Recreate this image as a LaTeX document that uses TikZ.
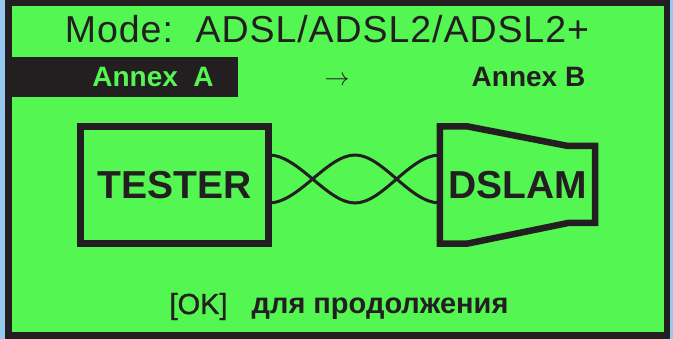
\documentclass[tikz,border=0pt]{standalone}
\usepackage{fontspec}
\setmainfont{Liberation Sans}
\newfontfamily\modefont[LetterSpace=2.5]{Liberation Sans}
\newfontfamily\okfont[FakeBold=1.2]{Liberation Sans}
\usetikzlibrary{calc}
\definecolor{scrgreen}{RGB}{84,246,82}
\definecolor{scrdark}{RGB}{35,31,32}
\definecolor{edgeblue}{RGB}{150,200,240}
\tikzset{
  boxline/.style={draw=scrdark, line width=7pt, line join=miter},
  cable/.style={draw=scrdark, line width=3pt},
  bigtxt/.style={font=\fontsize{39}{39}\selectfont\bfseries, text=scrdark, inner sep=0pt},
  annex/.style={font=\fontsize{28}{28}\selectfont\bfseries, inner sep=0pt, anchor=base},
}
\begin{document}
\begin{tikzpicture}[x=1pt,y=-1pt]
\useasboundingbox (0,0) rectangle (673,339);
% frame
\fill[edgeblue] (0,0) rectangle (673,339);
\fill[scrdark] (5,0) rectangle (670,339);
\fill[scrgreen] (12,6) rectangle (664,332);
% header
\node[font=\modefont\fontsize{37.5}{37.5}\selectfont, text=scrdark, inner sep=0pt, anchor=base] (mode) at (327,43) {Mode:\ \ ADSL/ADSL2/ADSL2+};
\fill[scrdark] (12,57) rectangle (238,97);
\node[annex, text=scrgreen] (annexa) at (153,87) {Annex\ \ A};
\node[inner sep=0pt, text=scrdark] (arrow) at (337,81) {\fontsize{28}{28}\selectfont$\rightarrow$};
\node[annex, text=scrdark] (annexb) at (528.5,87) {Annex B};
% boxes
\node[bigtxt, minimum width=188pt, minimum height=117pt] (tester) at (174.5,185) {TESTER};
\node[bigtxt, minimum width=155pt, minimum height=117pt] (dslam) at (517.5,185) {DSLAM};
% cable
\draw[cable] ([yshift=30pt]tester.east) .. controls +(30,0) and +(-28,0) .. (355,203)
   .. controls +(28,0) and +(-30,0) .. ([yshift=30pt]dslam.west);
\draw[cable] ([yshift=-18pt]tester.east) .. controls +(30,0) and +(-28,0) .. (355,155)
   .. controls +(28,0) and +(-30,0) .. ([yshift=-18pt]dslam.west);
% outlines
\draw[boxline] (tester.north west) rectangle (tester.south east);
\draw[draw=scrdark, line width=6.5pt, line join=miter]
  (dslam.north west) -- (468,126.5) -- (568,146) -- (dslam.east |- 0,146)
  -- (dslam.east |- 0,223) -- (568,223) -- (468,243.5) -- (dslam.south west) -- cycle;
% footer
\node[font=\fontsize{29}{29}\selectfont, text=scrdark, inner sep=0pt, anchor=base] (footer) at (339,314) {{\okfont [OK]}\ \ \ \textbf{для продолжения}};
\end{tikzpicture}
\end{document}
